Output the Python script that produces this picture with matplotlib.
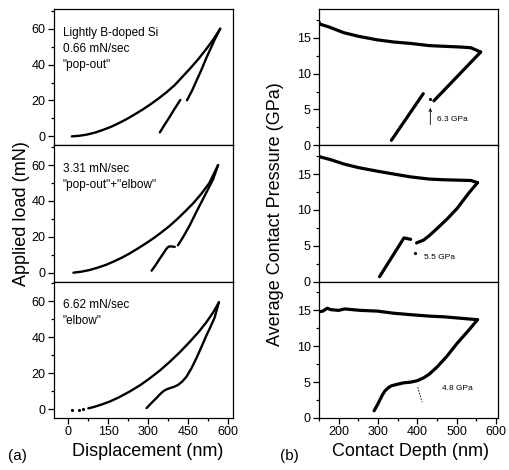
import matplotlib
matplotlib.use('Agg')
from matplotlib import pyplot as plt
from matplotlib.ticker import MultipleLocator

plt.rcParams['font.family'] = ['Liberation Sans', 'DejaVu Sans']

# (a) load vs displacement, three loading rates
notes = ['Lightly B-doped Si\n0.66 mN/sec\n"pop-out"',
         '3.31 mN/sec\n"pop-out"+"elbow"',
         '6.62 mN/sec\n"elbow"']

a1_load_h = [13, 40, 70, 100, 130, 160, 190, 220, 250, 280, 310, 340, 370,
             400, 430, 460, 490, 520, 545, 571]
a1_load_p = [0, 0.3, 1.0, 2.1, 3.6, 5.3, 7.4, 9.7, 12.3, 15.0, 18.0, 21.2,
             24.7, 28.6, 33.4, 38.2, 43.3, 49.0, 54.0, 60]
a1_unl_hi_h = [446, 465, 481, 500, 519, 535, 550, 571]
a1_unl_hi_p = [20.1, 25.5, 30.8, 37.0, 43.8, 49.0, 53.9, 60]
a1_unl_lo_h = [344, 362, 381, 400, 421]
a1_unl_lo_p = [2.2, 6.5, 10.9, 15.5, 20.3]

a2_load_h = [19, 50, 80, 110, 140, 170, 200, 230, 260, 290, 320, 350, 380,
             410, 440, 470, 500, 530, 563]
a2_load_p = [0, 0.6, 1.5, 2.8, 4.3, 6.2, 8.3, 10.7, 13.4, 16.2, 19.2, 22.5,
             26.0, 30.0, 34.3, 38.8, 44.0, 50.0, 60]
a2_unl_hi_h = [412, 430, 456, 480, 506, 525, 544, 563]
a2_unl_hi_p = [15.3, 19.5, 26.3, 33.5, 41.0, 46.5, 52.0, 60]
a2_unl_lo_h = [313, 327, 340, 355, 369, 375, 381, 390, 400]
a2_unl_lo_p = [1.1, 4.0, 7.0, 10.3, 13.4, 14.3, 14.7, 14.6, 14.4]

a3_dots_h = [13, 41, 56]
a3_dots_p = [-0.5, -0.3, 0]
a3_load_h = [75, 95, 125, 156, 190, 231, 270, 306, 345, 381, 420, 456, 490,
             519, 545, 566]
a3_load_p = [0.4, 1.1, 2.5, 4.2, 6.5, 9.8, 13.3, 17.1, 21.6, 26.3, 31.8,
             37.4, 43.0, 48.4, 54.0, 59.5]
a3_unl_h = [294, 312, 331, 345, 356, 368, 381, 397, 412, 428, 444, 462, 481,
            500, 519, 535, 550, 566]
a3_unl_p = [0.5, 3.3, 6.1, 8.3, 9.8, 10.9, 11.6, 12.4, 13.4, 15.3, 18.0,
            22.5, 28.2, 34.5, 41.0, 46.0, 51.0, 59.5]

# (b) average contact pressure vs contact depth
b1_load_d = [150, 152, 175, 213, 250, 298, 340, 383, 430, 468, 510, 536, 561]
b1_load_p = [17.2, 16.9, 16.5, 15.7, 15.2, 14.7, 14.4, 14.2, 13.9, 13.8,
             13.7, 13.6, 13.0]
b1_unl_hi_d = [561, 442]
b1_unl_hi_p = [13.0, 6.2]
b1_unl_lo_d = [415, 334]
b1_unl_lo_p = [7.2, 0.7]
b1_dot = (432, 6.5)

b2_load_d = [150, 152, 180, 213, 250, 298, 340, 383, 430, 468, 536, 553]
b2_load_p = [17.5, 17.4, 17.0, 16.4, 15.9, 15.4, 15.0, 14.6, 14.3, 14.2,
             14.1, 13.8]
b2_unl_hi_d = [553, 530, 501, 475, 450, 430, 416, 398]
b2_unl_hi_p = [13.8, 12.3, 10.2, 8.7, 7.4, 6.4, 5.8, 5.4]
b2_unl_lo_d = [383, 366, 304]
b2_unl_lo_p = [5.9, 6.1, 0.7]
b2_dot = (395, 4.0)

b3_load_d = [150, 160, 171, 180, 200, 215, 255, 298, 340, 383, 430, 468,
             510, 553]
b3_load_p = [14.8, 14.9, 15.3, 15.1, 15.0, 15.2, 15.0, 14.9, 14.6, 14.4,
             14.2, 14.1, 13.9, 13.7]
b3_unl_d = [553, 530, 501, 475, 450, 430, 416, 400, 383, 365, 349, 335, 328,
            318, 311, 300, 290]
b3_unl_p = [13.7, 12.2, 10.4, 8.6, 7.1, 6.1, 5.6, 5.2, 5.0, 4.9, 4.7, 4.5,
            4.3, 3.8, 3.2, 2.0, 1.0]

fig = plt.figure(figsize=(5.09, 4.70), dpi=100)

bot = 1 - 418 / 470.
ph = 409 / 470. / 3
axa = [fig.add_axes([54 / 509., bot + (2 - i) * ph, 179 / 509., ph]) for i in range(3)]
axb = [fig.add_axes([319 / 509., bot + (2 - i) * ph, 179 / 509., ph]) for i in range(3)]


def style(ax, xlim, ylim, xmaj, xmin, ymaj, ymin, labels):
    ax.set_xlim(xlim)
    ax.set_ylim(ylim)
    ax.xaxis.set_major_locator(MultipleLocator(xmaj))
    ax.xaxis.set_minor_locator(MultipleLocator(xmin))
    ax.yaxis.set_major_locator(MultipleLocator(ymaj))
    ax.yaxis.set_minor_locator(MultipleLocator(ymin))
    ax.tick_params(which='both', direction='out', top=False, right=False,
                   labelsize=9, width=0.9, pad=2)
    ax.tick_params(which='major', length=4)
    ax.tick_params(which='minor', length=2.5)
    for s in ax.spines.values():
        s.set_linewidth(0.9)
    if not labels:
        ax.tick_params(labelbottom=False)


kw = dict(color='black', lw=1.7, solid_capstyle='round', solid_joinstyle='round')

ax = axa[0]
ax.plot(a1_load_h, a1_load_p, **kw)
ax.plot(a1_unl_hi_h, a1_unl_hi_p, **kw)
ax.plot(a1_unl_lo_h, a1_unl_lo_p, **kw)

ax = axa[1]
ax.plot(a2_load_h, a2_load_p, **kw)
ax.plot(a2_unl_hi_h, a2_unl_hi_p, **kw)
ax.plot(a2_unl_lo_h, a2_unl_lo_p, **kw)

ax = axa[2]
ax.plot(a3_dots_h, a3_dots_p, 'k.', ms=2.5)
ax.plot(a3_load_h, a3_load_p, **kw)
ax.plot(a3_unl_h, a3_unl_p, **kw)

for i, ax in enumerate(axa):
    style(ax, (-54, 619), (-5, 71), 150, 75, 20, 10, i == 2)
    ax.text(0.05, 0.87, notes[i], transform=ax.transAxes, fontsize=8.5,
            va='top', ha='left', linespacing=1.45)

kw = dict(color='black', lw=2.3, solid_capstyle='round', solid_joinstyle='round')

ax = axb[0]
ax.plot(b1_load_d, b1_load_p, **kw)
ax.plot(b1_unl_hi_d, b1_unl_hi_p, **kw)
ax.plot(b1_unl_lo_d, b1_unl_lo_p, **kw)
ax.plot(*b1_dot, 'k.', ms=2.5)
ax.annotate('', xy=(433, 5.6), xytext=(433, 2.5),
            arrowprops=dict(arrowstyle='->', lw=0.6, color='black',
                            mutation_scale=5))
ax.text(449, 3.6, '6.3 GPa', fontsize=6, va='center', ha='left')

ax = axb[1]
ax.plot(b2_load_d, b2_load_p, **kw)
ax.plot(b2_unl_hi_d, b2_unl_hi_p, **kw)
ax.plot(b2_unl_lo_d, b2_unl_lo_p, **kw)
ax.plot(*b2_dot, 'k.', ms=2.5)
ax.text(416, 3.4, '5.5 GPa', fontsize=6, va='center', ha='left')

ax = axb[2]
ax.plot(b3_load_d, b3_load_p, **kw)
ax.plot(b3_unl_d, b3_unl_p, **kw)
ax.plot([401, 412], [4.3, 2.2], color='black', lw=0.6, ls=(0, (2, 1.5)))
ax.text(463, 4.1, '4.8 GPa', fontsize=6, va='center', ha='left')

for i, ax in enumerate(axb):
    style(ax, (150, 605), (0, 19), 100, 50, 5, 2.5, i == 2)

fig.text(22 / 509., 1 - 214 / 470., 'Applied load (mN)', rotation=90,
         fontsize=13, ha='center', va='center')
fig.text(275 / 509., 1 - 214 / 470., 'Average Contact Pressure (GPa)',
         rotation=90, fontsize=13, ha='center', va='center')
fig.text(148 / 509., 1 - 451 / 470., 'Displacement (nm)', fontsize=13,
         ha='center', va='center')
fig.text(410 / 509., 1 - 451 / 470., 'Contact Depth (nm)', fontsize=13,
         ha='center', va='center')
fig.text(17 / 509., 1 - 456 / 470., '(a)', fontsize=11, ha='center', va='center')
fig.text(289 / 509., 1 - 456 / 470., '(b)', fontsize=11, ha='center', va='center')

fig.savefig('out.png', dpi=100)
